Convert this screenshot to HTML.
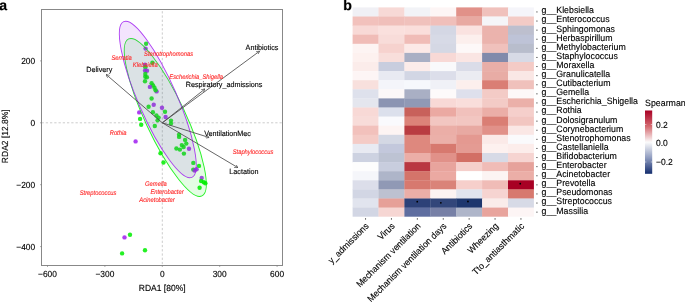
<!DOCTYPE html><html><head><meta charset="utf-8"><style>html,body{margin:0;padding:0;background:#fff;}svg{display:block;will-change:transform;text-rendering:geometricPrecision;}</style></head><body>
<svg width="685" height="302" viewBox="0 0 685 302" font-family='"Liberation Sans", sans-serif'>
<rect width="685" height="302" fill="#fff"/>
<path transform="translate(-0.85 10.1) scale(0.006982 -0.006982)" d="M393 -20Q236 -20 148.0 65.5Q60 151 60 306Q60 474 169.5 562.0Q279 650 487 652L720 656V711Q720 817 683.0 868.5Q646 920 562 920Q484 920 447.5 884.5Q411 849 402 767L109 781Q136 939 253.5 1020.5Q371 1102 574 1102Q779 1102 890.0 1001.0Q1001 900 1001 714V320Q1001 229 1021.5 194.5Q1042 160 1090 160Q1122 160 1152 166V14Q1127 8 1107.0 3.0Q1087 -2 1067.0 -5.0Q1047 -8 1024.5 -10.0Q1002 -12 972 -12Q866 -12 815.5 40.0Q765 92 755 193H749Q631 -20 393 -20ZM720 501 576 499Q478 495 437.0 477.5Q396 460 374.5 424.0Q353 388 353 328Q353 251 388.5 213.5Q424 176 483 176Q549 176 603.5 212.0Q658 248 689.0 311.5Q720 375 720 446Z" fill="#000" stroke="#000" stroke-width="28.6"/>
<path transform="translate(343.2 10.1) scale(0.006982 -0.006982)" d="M1167 545Q1167 277 1059.5 128.5Q952 -20 752 -20Q637 -20 553.0 30.0Q469 80 424 174H422Q422 139 417.5 78.0Q413 17 408 0H135Q143 93 143 247V1484H424V1070L420 894H424Q519 1102 770 1102Q962 1102 1064.5 956.5Q1167 811 1167 545ZM874 545Q874 729 820.0 818.0Q766 907 653 907Q539 907 479.5 811.5Q420 716 420 536Q420 364 478.5 268.0Q537 172 651 172Q874 172 874 545Z" fill="#000" stroke="#000" stroke-width="28.6"/>
<defs><clipPath id="pc"><rect x="41.5" y="9.5" width="241.0" height="256.0"/></clipPath>
<clipPath id="pe"><ellipse cx="157.8" cy="99.5" rx="84.96" ry="19.27" transform="rotate(66.33 157.8 99.5)"/></clipPath>
<marker id="ah" viewBox="0 0 10 10" refX="10" refY="5" markerWidth="4.2" markerHeight="4.2" orient="auto"><path d="M0,0 L10,5 L0,10" fill="none" stroke="#444" stroke-width="1.7"/></marker>
</defs>
<line x1="41.5" y1="122.8" x2="282.5" y2="122.8" stroke="#cccccc" stroke-width="1" stroke-dasharray="2.3,1.95"/>
<line x1="162.3" y1="265.5" x2="162.3" y2="9.5" stroke="#cccccc" stroke-width="1" stroke-dasharray="2.3,1.95" stroke-dashoffset="2.95"/>
<circle cx="146.1" cy="43.7" r="2.2" fill="#00ee00" fill-opacity="0.86"/>
<circle cx="145.6" cy="48.6" r="2.2" fill="#a020f0" fill-opacity="0.86"/>
<circle cx="152.4" cy="62.7" r="2.2" fill="#00ee00" fill-opacity="0.86"/>
<circle cx="145.0" cy="64.8" r="2.2" fill="#a020f0" fill-opacity="0.86"/>
<circle cx="145.3" cy="67.2" r="2.2" fill="#00ee00" fill-opacity="0.86"/>
<circle cx="145.0" cy="70.6" r="2.2" fill="#a020f0" fill-opacity="0.86"/>
<circle cx="147.0" cy="70.8" r="2.2" fill="#a020f0" fill-opacity="0.86"/>
<circle cx="145.3" cy="74.0" r="2.2" fill="#00ee00" fill-opacity="0.86"/>
<circle cx="145.3" cy="76.8" r="2.2" fill="#00ee00" fill-opacity="0.86"/>
<circle cx="146.9" cy="77.2" r="2.2" fill="#00ee00" fill-opacity="0.86"/>
<circle cx="145.0" cy="81.3" r="2.2" fill="#00ee00" fill-opacity="0.86"/>
<circle cx="151.6" cy="83.3" r="2.2" fill="#00ee00" fill-opacity="0.86"/>
<circle cx="153.1" cy="85.4" r="2.2" fill="#00ee00" fill-opacity="0.86"/>
<circle cx="149.9" cy="86.9" r="2.2" fill="#a020f0" fill-opacity="0.86"/>
<circle cx="154.5" cy="87.8" r="2.2" fill="#00ee00" fill-opacity="0.86"/>
<circle cx="156.6" cy="91.4" r="2.2" fill="#a020f0" fill-opacity="0.86"/>
<circle cx="155.6" cy="90.2" r="2.2" fill="#00ee00" fill-opacity="0.86"/>
<circle cx="151.6" cy="98.5" r="2.2" fill="#00ee00" fill-opacity="0.86"/>
<circle cx="153.7" cy="104.8" r="2.2" fill="#a020f0" fill-opacity="0.86"/>
<circle cx="148.6" cy="106.7" r="2.2" fill="#00ee00" fill-opacity="0.86"/>
<circle cx="162" cy="107.7" r="2.2" fill="#a020f0" fill-opacity="0.86"/>
<circle cx="165" cy="111.7" r="2.2" fill="#00ee00" fill-opacity="0.86"/>
<circle cx="152.9" cy="112.2" r="2.2" fill="#00ee00" fill-opacity="0.86"/>
<circle cx="156.4" cy="115.5" r="2.2" fill="#00ee00" fill-opacity="0.86"/>
<circle cx="158.6" cy="117.6" r="2.2" fill="#00ee00" fill-opacity="0.86"/>
<circle cx="165.6" cy="117" r="2.2" fill="#a020f0" fill-opacity="0.86"/>
<circle cx="157.6" cy="120.3" r="2.2" fill="#00ee00" fill-opacity="0.86"/>
<circle cx="171" cy="120.6" r="2.2" fill="#00ee00" fill-opacity="0.86"/>
<circle cx="171" cy="123.6" r="2.2" fill="#00ee00" fill-opacity="0.86"/>
<circle cx="154.8" cy="126.0" r="2.2" fill="#00ee00" fill-opacity="0.86"/>
<circle cx="139.2" cy="112.4" r="2.2" fill="#a020f0" fill-opacity="0.86"/>
<circle cx="140.1" cy="118.9" r="2.2" fill="#00ee00" fill-opacity="0.86"/>
<circle cx="141.2" cy="124.8" r="2.2" fill="#00ee00" fill-opacity="0.86"/>
<circle cx="135.6" cy="141.4" r="2.2" fill="#a020f0" fill-opacity="0.86"/>
<circle cx="179.1" cy="134.6" r="2.2" fill="#00ee00" fill-opacity="0.86"/>
<circle cx="179.1" cy="136.9" r="2.2" fill="#00ee00" fill-opacity="0.86"/>
<circle cx="185.1" cy="139.9" r="2.2" fill="#00ee00" fill-opacity="0.86"/>
<circle cx="186.3" cy="143.6" r="2.2" fill="#00ee00" fill-opacity="0.86"/>
<circle cx="181.8" cy="145.1" r="2.2" fill="#00ee00" fill-opacity="0.86"/>
<circle cx="183.6" cy="147.0" r="2.2" fill="#00ee00" fill-opacity="0.86"/>
<circle cx="176.4" cy="148.5" r="2.2" fill="#00ee00" fill-opacity="0.86"/>
<circle cx="179.9" cy="149.6" r="2.2" fill="#00ee00" fill-opacity="0.86"/>
<circle cx="189.0" cy="148.8" r="2.2" fill="#a020f0" fill-opacity="0.86"/>
<circle cx="183.9" cy="153.6" r="2.2" fill="#00ee00" fill-opacity="0.86"/>
<circle cx="160.5" cy="153.3" r="2.2" fill="#00ee00" fill-opacity="0.86"/>
<circle cx="163.5" cy="162.5" r="2.2" fill="#00ee00" fill-opacity="0.86"/>
<circle cx="193.3" cy="162.9" r="2.2" fill="#00ee00" fill-opacity="0.86"/>
<circle cx="199" cy="165.9" r="2.2" fill="#00ee00" fill-opacity="0.86"/>
<circle cx="193.3" cy="169.6" r="2.2" fill="#00ee00" fill-opacity="0.86"/>
<circle cx="194.6" cy="170.5" r="2.2" fill="#a020f0" fill-opacity="0.86"/>
<circle cx="196.6" cy="169.3" r="2.2" fill="#a020f0" fill-opacity="0.86"/>
<circle cx="201.7" cy="178.0" r="2.2" fill="#a020f0" fill-opacity="0.86"/>
<circle cx="201.1" cy="181.0" r="2.2" fill="#00ee00" fill-opacity="0.86"/>
<circle cx="203.8" cy="182.2" r="2.2" fill="#00ee00" fill-opacity="0.86"/>
<circle cx="205.4" cy="183.3" r="2.2" fill="#00ee00" fill-opacity="0.86"/>
<circle cx="199.6" cy="187.7" r="2.2" fill="#00ee00" fill-opacity="0.86"/>
<circle cx="124.5" cy="237.4" r="2.2" fill="#a020f0" fill-opacity="0.86"/>
<circle cx="130.0" cy="234.8" r="2.2" fill="#00ee00" fill-opacity="0.86"/>
<circle cx="122.1" cy="253.4" r="2.2" fill="#00ee00" fill-opacity="0.86"/>
<circle cx="145.0" cy="250.3" r="2.2" fill="#00ee00" fill-opacity="0.86"/>
<ellipse cx="165.3" cy="117.45" rx="86.64" ry="20.1" transform="rotate(64.95 165.3 117.45)" fill="rgb(0,238,0)" stroke="none" stroke-width="0.9" fill-opacity="0.107"/>
<ellipse cx="165.3" cy="117.45" rx="86.64" ry="20.1" transform="rotate(64.95 165.3 117.45)" fill="none" stroke="rgb(0,238,0)" stroke-width="0.9" stroke-opacity="0.85"/>
<ellipse cx="157.8" cy="99.5" rx="84.96" ry="19.27" transform="rotate(66.33 157.8 99.5)" fill="rgb(160,32,240)" stroke="none" stroke-width="0.9" fill-opacity="0.12"/>
<ellipse cx="157.8" cy="99.5" rx="84.96" ry="19.27" transform="rotate(66.33 157.8 99.5)" fill="none" stroke="rgb(160,32,240)" stroke-width="0.9" stroke-opacity="0.85"/>
<line x1="162.3" y1="122.8" x2="259.7" y2="51.1" stroke="#4a4a4a" stroke-width="0.85" marker-end="url(#ah)"/>
<text transform="translate(245.60 50.10) scale(1.0 1.04)" font-size="7.2" fill="#000" stroke="#000" stroke-width="0.12">Antibiotics</text>
<line x1="162.3" y1="122.8" x2="106.0" y2="74.4" stroke="#4a4a4a" stroke-width="0.85" marker-end="url(#ah)"/>
<text transform="translate(86.30 71.60) scale(1.0 1.04)" font-size="7.2" fill="#000" stroke="#000" stroke-width="0.12">Delivery</text>
<line x1="162.3" y1="122.8" x2="205.0" y2="88.9" stroke="#4a4a4a" stroke-width="0.85" marker-end="url(#ah)"/>
<text transform="translate(185.70 86.70) scale(1.0 1.04)" font-size="7.2" fill="#000" stroke="#000" stroke-width="0.12">Respiratory_admissions</text>
<line x1="162.3" y1="122.8" x2="209.2" y2="137.5" stroke="#4a4a4a" stroke-width="0.85" marker-end="url(#ah)"/>
<text transform="translate(204.20 135.50) scale(1.0 1.04)" font-size="7.2" fill="#000" stroke="#000" stroke-width="0.12">VentilationMec</text>
<line x1="162.3" y1="122.8" x2="238.0" y2="167.7" stroke="#4a4a4a" stroke-width="0.85" marker-end="url(#ah)"/>
<text transform="translate(229.30 174.20) scale(1.0 1.04)" font-size="7.2" fill="#000" stroke="#000" stroke-width="0.12">Lactation</text>
<text transform="translate(144.10 55.70) scale(0.9 1.04)" font-size="6.45" font-style="italic" fill="#ff2a2a" stroke="#ff2a2a" stroke-width="0.12">Stenotrophomonas</text>
<text transform="translate(111.50 60.40) scale(0.9 1.04)" font-size="6.45" font-style="italic" fill="#ff2a2a" stroke="#ff2a2a" stroke-width="0.12">Serratia</text>
<text transform="translate(132.80 67.10) scale(0.9 1.04)" font-size="6.45" font-style="italic" fill="#ff2a2a" stroke="#ff2a2a" stroke-width="0.12">Klebsiella</text>
<text transform="translate(169.30 79.10) scale(0.9 1.04)" font-size="6.45" font-style="italic" fill="#ff2a2a" stroke="#ff2a2a" stroke-width="0.12">Escherichia_Shigella</text>
<text transform="translate(109.70 135.20) scale(0.9 1.04)" font-size="6.45" font-style="italic" fill="#ff2a2a" stroke="#ff2a2a" stroke-width="0.12">Rothia</text>
<text transform="translate(232.70 154.10) scale(0.9 1.04)" font-size="6.45" font-style="italic" fill="#ff2a2a" stroke="#ff2a2a" stroke-width="0.12">Staphylococcus</text>
<text transform="translate(79.70 194.90) scale(0.9 1.04)" font-size="6.45" font-style="italic" fill="#ff2a2a" stroke="#ff2a2a" stroke-width="0.12">Streptococcus</text>
<text transform="translate(145.10 186.10) scale(0.9 1.04)" font-size="6.45" font-style="italic" fill="#ff2a2a" stroke="#ff2a2a" stroke-width="0.12">Gemella</text>
<text transform="translate(150.40 194.20) scale(0.9 1.04)" font-size="6.45" font-style="italic" fill="#ff2a2a" stroke="#ff2a2a" stroke-width="0.12">Enterobacter</text>
<text transform="translate(139.30 201.80) scale(0.9 1.04)" font-size="6.45" font-style="italic" fill="#ff2a2a" stroke="#ff2a2a" stroke-width="0.12">Acinetobacter</text>
<rect x="41.5" y="9.5" width="241.0" height="256.0" fill="none" stroke="#888" stroke-width="1"/>
<line x1="47.50" y1="265.5" x2="47.50" y2="267.0" stroke="#777" stroke-width="0.6"/>
<text transform="translate(47.50 276.90) scale(1.0 1.04)" font-size="8.4" text-anchor="middle" fill="#000" stroke="#000" stroke-width="0.12">−600</text>
<line x1="104.90" y1="265.5" x2="104.90" y2="267.0" stroke="#777" stroke-width="0.6"/>
<text transform="translate(104.90 276.90) scale(1.0 1.04)" font-size="8.4" text-anchor="middle" fill="#000" stroke="#000" stroke-width="0.12">−300</text>
<line x1="162.30" y1="265.5" x2="162.30" y2="267.0" stroke="#777" stroke-width="0.6"/>
<text transform="translate(162.30 276.90) scale(1.0 1.04)" font-size="8.4" text-anchor="middle" fill="#000" stroke="#000" stroke-width="0.12">0</text>
<line x1="219.70" y1="265.5" x2="219.70" y2="267.0" stroke="#777" stroke-width="0.6"/>
<text transform="translate(219.70 276.90) scale(1.0 1.04)" font-size="8.4" text-anchor="middle" fill="#000" stroke="#000" stroke-width="0.12">300</text>
<line x1="277.10" y1="265.5" x2="277.10" y2="267.0" stroke="#777" stroke-width="0.6"/>
<text transform="translate(277.10 276.90) scale(1.0 1.04)" font-size="8.4" text-anchor="middle" fill="#000" stroke="#000" stroke-width="0.12">600</text>
<line x1="40.0" y1="60.90" x2="41.5" y2="60.90" stroke="#777" stroke-width="0.6"/>
<text transform="translate(35.20 63.85) scale(1.0 1.04)" font-size="8.4" text-anchor="end" fill="#000" stroke="#000" stroke-width="0.12">200</text>
<line x1="40.0" y1="122.80" x2="41.5" y2="122.80" stroke="#777" stroke-width="0.6"/>
<text transform="translate(35.20 125.75) scale(1.0 1.04)" font-size="8.4" text-anchor="end" fill="#000" stroke="#000" stroke-width="0.12">0</text>
<line x1="40.0" y1="184.70" x2="41.5" y2="184.70" stroke="#777" stroke-width="0.6"/>
<text transform="translate(35.20 187.65) scale(1.0 1.04)" font-size="8.4" text-anchor="end" fill="#000" stroke="#000" stroke-width="0.12">−200</text>
<line x1="40.0" y1="246.60" x2="41.5" y2="246.60" stroke="#777" stroke-width="0.6"/>
<text transform="translate(35.20 249.55) scale(1.0 1.04)" font-size="8.4" text-anchor="end" fill="#000" stroke="#000" stroke-width="0.12">−400</text>
<text transform="translate(162.20 290.60) scale(1.0 1.04)" font-size="8.5" text-anchor="middle" fill="#000" stroke="#000" stroke-width="0.12">RDA1 [80%]</text>
<text transform="translate(7.90 136.20) rotate(-90) scale(1.0 1.04)" font-size="8.5" text-anchor="middle" fill="#000" stroke="#000" stroke-width="0.12">RDA2 [12.8%]</text>
<rect x="352.60" y="7.40" width="26.20" height="9.40" fill="#f0f0f5"/>
<rect x="378.50" y="7.40" width="26.20" height="9.40" fill="#f7d9d6"/>
<rect x="404.40" y="7.40" width="26.20" height="9.40" fill="#f2f3f7"/>
<rect x="430.30" y="7.40" width="26.20" height="9.40" fill="#fdf5f5"/>
<rect x="456.20" y="7.40" width="26.20" height="9.40" fill="#e19189"/>
<rect x="482.10" y="7.40" width="26.20" height="9.40" fill="#f0c1bc"/>
<rect x="508.00" y="7.40" width="25.90" height="9.40" fill="#f5f5fa"/>
<rect x="352.60" y="16.50" width="26.20" height="9.40" fill="#f2c1bc"/>
<rect x="378.50" y="16.50" width="26.20" height="9.40" fill="#f0bfba"/>
<rect x="404.40" y="16.50" width="26.20" height="9.40" fill="#f0c1bc"/>
<rect x="430.30" y="16.50" width="26.20" height="9.40" fill="#f0bfba"/>
<rect x="456.20" y="16.50" width="26.20" height="9.40" fill="#e8a9a2"/>
<rect x="482.10" y="16.50" width="26.20" height="9.40" fill="#f5f5f8"/>
<rect x="508.00" y="16.50" width="25.90" height="9.40" fill="#f3cbc6"/>
<rect x="352.60" y="25.60" width="26.20" height="9.40" fill="#f8d9d6"/>
<rect x="378.50" y="25.60" width="26.20" height="9.40" fill="#fae0dd"/>
<rect x="404.40" y="25.60" width="26.20" height="9.40" fill="#fadedb"/>
<rect x="430.30" y="25.60" width="26.20" height="9.40" fill="#d4d7e4"/>
<rect x="456.20" y="25.60" width="26.20" height="9.40" fill="#fae2e0"/>
<rect x="482.10" y="25.60" width="26.20" height="9.40" fill="#ebb3ad"/>
<rect x="508.00" y="25.60" width="25.90" height="9.40" fill="#bdbfce"/>
<rect x="352.60" y="34.70" width="26.20" height="9.40" fill="#f0bcb7"/>
<rect x="378.50" y="34.70" width="26.20" height="9.40" fill="#f8dcd9"/>
<rect x="404.40" y="34.70" width="26.20" height="9.40" fill="#f0bcb7"/>
<rect x="430.30" y="34.70" width="26.20" height="9.40" fill="#d7dae6"/>
<rect x="456.20" y="34.70" width="26.20" height="9.40" fill="#fcefed"/>
<rect x="482.10" y="34.70" width="26.20" height="9.40" fill="#ebb3ad"/>
<rect x="508.00" y="34.70" width="25.90" height="9.40" fill="#bec3d7"/>
<rect x="352.60" y="43.80" width="26.20" height="9.40" fill="#fdf4f3"/>
<rect x="378.50" y="43.80" width="26.20" height="9.40" fill="#f6d2ce"/>
<rect x="404.40" y="43.80" width="26.20" height="9.40" fill="#fce9e7"/>
<rect x="430.30" y="43.80" width="26.20" height="9.40" fill="#d5d8e4"/>
<rect x="456.20" y="43.80" width="26.20" height="9.40" fill="#fdf8f8"/>
<rect x="482.10" y="43.80" width="26.20" height="9.40" fill="#f0c1bc"/>
<rect x="508.00" y="43.80" width="25.90" height="9.40" fill="#b8bdcc"/>
<rect x="352.60" y="52.90" width="26.20" height="9.40" fill="#fdf1ef"/>
<rect x="378.50" y="52.90" width="26.20" height="9.40" fill="#f8dedb"/>
<rect x="404.40" y="52.90" width="26.20" height="9.40" fill="#a9afc4"/>
<rect x="430.30" y="52.90" width="26.20" height="9.40" fill="#f8d9d6"/>
<rect x="456.20" y="52.90" width="26.20" height="9.40" fill="#fae5e3"/>
<rect x="482.10" y="52.90" width="26.20" height="9.40" fill="#818aab"/>
<rect x="508.00" y="52.90" width="25.90" height="9.40" fill="#d7dae6"/>
<rect x="352.60" y="62.00" width="26.20" height="9.40" fill="#fbecea"/>
<rect x="378.50" y="62.00" width="26.20" height="9.40" fill="#c8cdde"/>
<rect x="404.40" y="62.00" width="26.20" height="9.40" fill="#fcecea"/>
<rect x="430.30" y="62.00" width="26.20" height="9.40" fill="#f9f9fb"/>
<rect x="456.20" y="62.00" width="26.20" height="9.40" fill="#dadce8"/>
<rect x="482.10" y="62.00" width="26.20" height="9.40" fill="#e8aea8"/>
<rect x="508.00" y="62.00" width="25.90" height="9.40" fill="#f4cbc6"/>
<rect x="352.60" y="71.10" width="26.20" height="9.40" fill="#fdf5f5"/>
<rect x="378.50" y="71.10" width="26.20" height="9.40" fill="#e8eaf2"/>
<rect x="404.40" y="71.10" width="26.20" height="9.40" fill="#d2d6e4"/>
<rect x="430.30" y="71.10" width="26.20" height="9.40" fill="#dcdeea"/>
<rect x="456.20" y="71.10" width="26.20" height="9.40" fill="#ebecf2"/>
<rect x="482.10" y="71.10" width="26.20" height="9.40" fill="#e8aca5"/>
<rect x="508.00" y="71.10" width="25.90" height="9.40" fill="#fae7e5"/>
<rect x="352.60" y="80.20" width="26.20" height="9.40" fill="#f8e0dd"/>
<rect x="378.50" y="80.20" width="26.20" height="9.40" fill="#f4f5fa"/>
<rect x="404.40" y="80.20" width="26.20" height="9.40" fill="#f6f8fc"/>
<rect x="430.30" y="80.20" width="26.20" height="9.40" fill="#f0f1f7"/>
<rect x="456.20" y="80.20" width="26.20" height="9.40" fill="#fcefed"/>
<rect x="482.10" y="80.20" width="26.20" height="9.40" fill="#da7e74"/>
<rect x="508.00" y="80.20" width="25.90" height="9.40" fill="#f0c1bc"/>
<rect x="352.60" y="89.30" width="26.20" height="9.40" fill="#dee1ec"/>
<rect x="378.50" y="89.30" width="26.20" height="9.40" fill="#fcf8f8"/>
<rect x="404.40" y="89.30" width="26.20" height="9.40" fill="#a9afc4"/>
<rect x="430.30" y="89.30" width="26.20" height="9.40" fill="#fdfafa"/>
<rect x="456.20" y="89.30" width="26.20" height="9.40" fill="#dee0ec"/>
<rect x="482.10" y="89.30" width="26.20" height="9.40" fill="#f3cbc6"/>
<rect x="508.00" y="89.30" width="25.90" height="9.40" fill="#fdf8f8"/>
<rect x="352.60" y="98.40" width="26.20" height="9.40" fill="#e4e6ee"/>
<rect x="378.50" y="98.40" width="26.20" height="9.40" fill="#8b94b2"/>
<rect x="404.40" y="98.40" width="26.20" height="9.40" fill="#9099b5"/>
<rect x="430.30" y="98.40" width="26.20" height="9.40" fill="#f8d9d6"/>
<rect x="456.20" y="98.40" width="26.20" height="9.40" fill="#f9dedb"/>
<rect x="482.10" y="98.40" width="26.20" height="9.40" fill="#f3cbc6"/>
<rect x="508.00" y="98.40" width="25.90" height="9.40" fill="#ebb0a9"/>
<rect x="352.60" y="107.50" width="26.20" height="9.40" fill="#f8d9d6"/>
<rect x="378.50" y="107.50" width="26.20" height="9.40" fill="#dce0ec"/>
<rect x="404.40" y="107.50" width="26.20" height="9.40" fill="#c8615b"/>
<rect x="430.30" y="107.50" width="26.20" height="9.40" fill="#eba9a2"/>
<rect x="456.20" y="107.50" width="26.20" height="9.40" fill="#f1c1bc"/>
<rect x="482.10" y="107.50" width="26.20" height="9.40" fill="#ebaea7"/>
<rect x="508.00" y="107.50" width="25.90" height="9.40" fill="#f5cfcb"/>
<rect x="352.60" y="116.60" width="26.20" height="9.40" fill="#f8dcd9"/>
<rect x="378.50" y="116.60" width="26.20" height="9.40" fill="#fafafd"/>
<rect x="404.40" y="116.60" width="26.20" height="9.40" fill="#dc8379"/>
<rect x="430.30" y="116.60" width="26.20" height="9.40" fill="#f2c6c1"/>
<rect x="456.20" y="116.60" width="26.20" height="9.40" fill="#f2c6c1"/>
<rect x="482.10" y="116.60" width="26.20" height="9.40" fill="#da7e74"/>
<rect x="508.00" y="116.60" width="25.90" height="9.40" fill="#f2c6c1"/>
<rect x="352.60" y="125.70" width="26.20" height="9.40" fill="#f2c1bc"/>
<rect x="378.50" y="125.70" width="26.20" height="9.40" fill="#fdf4f3"/>
<rect x="404.40" y="125.70" width="26.20" height="9.40" fill="#b93c41"/>
<rect x="430.30" y="125.70" width="26.20" height="9.40" fill="#ebaea7"/>
<rect x="456.20" y="125.70" width="26.20" height="9.40" fill="#e8a9a2"/>
<rect x="482.10" y="125.70" width="26.20" height="9.40" fill="#e19189"/>
<rect x="508.00" y="125.70" width="25.90" height="9.40" fill="#fae7e5"/>
<rect x="352.60" y="134.80" width="26.20" height="9.40" fill="#f4cbc6"/>
<rect x="378.50" y="134.80" width="26.20" height="9.40" fill="#d4d8e4"/>
<rect x="404.40" y="134.80" width="26.20" height="9.40" fill="#de887e"/>
<rect x="430.30" y="134.80" width="26.20" height="9.40" fill="#ebb0a9"/>
<rect x="456.20" y="134.80" width="26.20" height="9.40" fill="#e49991"/>
<rect x="482.10" y="134.80" width="26.20" height="9.40" fill="#fbeae8"/>
<rect x="508.00" y="134.80" width="25.90" height="9.40" fill="#fafafc"/>
<rect x="352.60" y="143.90" width="26.20" height="9.40" fill="#e8eaf2"/>
<rect x="378.50" y="143.90" width="26.20" height="9.40" fill="#c3c8dc"/>
<rect x="404.40" y="143.90" width="26.20" height="9.40" fill="#de887e"/>
<rect x="430.30" y="143.90" width="26.20" height="9.40" fill="#d7796f"/>
<rect x="456.20" y="143.90" width="26.20" height="9.40" fill="#e49b93"/>
<rect x="482.10" y="143.90" width="26.20" height="9.40" fill="#fdf1ef"/>
<rect x="508.00" y="143.90" width="25.90" height="9.40" fill="#fcedeb"/>
<rect x="352.60" y="153.00" width="26.20" height="9.40" fill="#cdd2e1"/>
<rect x="378.50" y="153.00" width="26.20" height="9.40" fill="#bdc3d3"/>
<rect x="404.40" y="153.00" width="26.20" height="9.40" fill="#ebaea7"/>
<rect x="430.30" y="153.00" width="26.20" height="9.40" fill="#e19189"/>
<rect x="456.20" y="153.00" width="26.20" height="9.40" fill="#d26f65"/>
<rect x="482.10" y="153.00" width="26.20" height="9.40" fill="#d7dae6"/>
<rect x="508.00" y="153.00" width="25.90" height="9.40" fill="#f6d4d1"/>
<rect x="352.60" y="162.10" width="26.20" height="9.40" fill="#fdfdfd"/>
<rect x="378.50" y="162.10" width="26.20" height="9.40" fill="#c8cdde"/>
<rect x="404.40" y="162.10" width="26.20" height="9.40" fill="#b93741"/>
<rect x="430.30" y="162.10" width="26.20" height="9.40" fill="#e8a49d"/>
<rect x="456.20" y="162.10" width="26.20" height="9.40" fill="#f5cfcb"/>
<rect x="482.10" y="162.10" width="26.20" height="9.40" fill="#f0bcb7"/>
<rect x="508.00" y="162.10" width="25.90" height="9.40" fill="#e6a29b"/>
<rect x="352.60" y="171.20" width="26.20" height="9.40" fill="#f5f6fa"/>
<rect x="378.50" y="171.20" width="26.20" height="9.40" fill="#aeb5c9"/>
<rect x="404.40" y="171.20" width="26.20" height="9.40" fill="#d4746a"/>
<rect x="430.30" y="171.20" width="26.20" height="9.40" fill="#eba9a2"/>
<rect x="456.20" y="171.20" width="26.20" height="9.40" fill="#ffffff"/>
<rect x="482.10" y="171.20" width="26.20" height="9.40" fill="#fcf4f3"/>
<rect x="508.00" y="171.20" width="25.90" height="9.40" fill="#ebaea7"/>
<rect x="352.60" y="180.30" width="26.20" height="9.40" fill="#dcdeea"/>
<rect x="378.50" y="180.30" width="26.20" height="9.40" fill="#9099b5"/>
<rect x="404.40" y="180.30" width="26.20" height="9.40" fill="#d7796f"/>
<rect x="430.30" y="180.30" width="26.20" height="9.40" fill="#da8379"/>
<rect x="456.20" y="180.30" width="26.20" height="9.40" fill="#f6cfcb"/>
<rect x="482.10" y="180.30" width="26.20" height="9.40" fill="#f0bcb7"/>
<rect x="508.00" y="180.30" width="25.90" height="9.40" fill="#a80024"/>
<rect x="352.60" y="189.40" width="26.20" height="9.40" fill="#d2d6e4"/>
<rect x="378.50" y="189.40" width="26.20" height="9.40" fill="#bdc1d0"/>
<rect x="404.40" y="189.40" width="26.20" height="9.40" fill="#ebaea7"/>
<rect x="430.30" y="189.40" width="26.20" height="9.40" fill="#fcf3f2"/>
<rect x="456.20" y="189.40" width="26.20" height="9.40" fill="#e1e4ee"/>
<rect x="482.10" y="189.40" width="26.20" height="9.40" fill="#f6d4d1"/>
<rect x="508.00" y="189.40" width="25.90" height="9.40" fill="#d7796f"/>
<rect x="352.60" y="198.50" width="26.20" height="9.40" fill="#e1e4ee"/>
<rect x="378.50" y="198.50" width="26.20" height="9.40" fill="#e6a098"/>
<rect x="404.40" y="198.50" width="26.20" height="9.40" fill="#2d4178"/>
<rect x="430.30" y="198.50" width="26.20" height="9.40" fill="#32467a"/>
<rect x="456.20" y="198.50" width="26.20" height="9.40" fill="#1e376e"/>
<rect x="482.10" y="198.50" width="26.20" height="9.40" fill="#faecea"/>
<rect x="508.00" y="198.50" width="25.90" height="9.40" fill="#d7dae6"/>
<rect x="352.60" y="207.60" width="26.20" height="9.10" fill="#d2d6e4"/>
<rect x="378.50" y="207.60" width="26.20" height="9.10" fill="#f6d6d3"/>
<rect x="404.40" y="207.60" width="26.20" height="9.10" fill="#5f6ea0"/>
<rect x="430.30" y="207.60" width="26.20" height="9.10" fill="#7780a6"/>
<rect x="456.20" y="207.60" width="26.20" height="9.10" fill="#aeb5c9"/>
<rect x="482.10" y="207.60" width="26.20" height="9.10" fill="#e8a49d"/>
<rect x="508.00" y="207.60" width="25.90" height="9.10" fill="#fdf5f5"/>
<circle cx="417.25" cy="201.70" r="0.9" fill="#000"/>
<circle cx="440.85" cy="202.80" r="0.9" fill="#000"/>
<circle cx="467.95" cy="201.50" r="0.9" fill="#000"/>
<circle cx="520.25" cy="183.70" r="0.9" fill="#000"/>
<line x1="365.55" y1="218.00" x2="365.55" y2="219.80" stroke="#333" stroke-width="0.7"/>
<text transform="translate(369.35 226.60) rotate(-45) scale(1.0 1.04)" font-size="8.75" text-anchor="end" fill="#000" stroke="#000" stroke-width="0.12">y_admissions</text>
<line x1="391.45" y1="218.00" x2="391.45" y2="219.80" stroke="#333" stroke-width="0.7"/>
<text transform="translate(395.25 226.60) rotate(-45) scale(1.0 1.04)" font-size="8.75" text-anchor="end" fill="#000" stroke="#000" stroke-width="0.12">Virus</text>
<line x1="417.35" y1="218.00" x2="417.35" y2="219.80" stroke="#333" stroke-width="0.7"/>
<text transform="translate(421.15 226.60) rotate(-45) scale(1.0 1.04)" font-size="8.75" text-anchor="end" fill="#000" stroke="#000" stroke-width="0.12">Mechanism ventilation</text>
<line x1="443.25" y1="218.00" x2="443.25" y2="219.80" stroke="#333" stroke-width="0.7"/>
<text transform="translate(447.05 226.60) rotate(-45) scale(1.0 1.04)" font-size="8.75" text-anchor="end" fill="#000" stroke="#000" stroke-width="0.12">Mechanism ventilation days</text>
<line x1="469.15" y1="218.00" x2="469.15" y2="219.80" stroke="#333" stroke-width="0.7"/>
<text transform="translate(472.95 226.60) rotate(-45) scale(1.0 1.04)" font-size="8.75" text-anchor="end" fill="#000" stroke="#000" stroke-width="0.12">Antibiotics</text>
<line x1="495.05" y1="218.00" x2="495.05" y2="219.80" stroke="#333" stroke-width="0.7"/>
<text transform="translate(498.85 226.60) rotate(-45) scale(1.0 1.04)" font-size="8.75" text-anchor="end" fill="#000" stroke="#000" stroke-width="0.12">Wheezing</text>
<line x1="520.95" y1="218.00" x2="520.95" y2="219.80" stroke="#333" stroke-width="0.7"/>
<text transform="translate(524.75 226.60) rotate(-45) scale(1.0 1.04)" font-size="8.75" text-anchor="end" fill="#000" stroke="#000" stroke-width="0.12">Tto_antiasthmatic</text>
<line x1="536.10" y1="11.95" x2="537.70" y2="11.95" stroke="#333" stroke-width="0.7"/>
<text transform="translate(541.60 13.35) scale(1.0 1.04)" font-size="8.8" fill="#000" stroke="#000" stroke-width="0.12">g__Klebsiella</text>
<line x1="536.10" y1="21.05" x2="537.70" y2="21.05" stroke="#333" stroke-width="0.7"/>
<text transform="translate(541.60 22.45) scale(1.0 1.04)" font-size="8.8" fill="#000" stroke="#000" stroke-width="0.12">g__Enterococcus</text>
<line x1="536.10" y1="30.15" x2="537.70" y2="30.15" stroke="#333" stroke-width="0.7"/>
<text transform="translate(541.60 31.55) scale(1.0 1.04)" font-size="8.8" fill="#000" stroke="#000" stroke-width="0.12">g__Sphingomonas</text>
<line x1="536.10" y1="39.25" x2="537.70" y2="39.25" stroke="#333" stroke-width="0.7"/>
<text transform="translate(541.60 40.65) scale(1.0 1.04)" font-size="8.8" fill="#000" stroke="#000" stroke-width="0.12">g__Herbaspirillum</text>
<line x1="536.10" y1="48.35" x2="537.70" y2="48.35" stroke="#333" stroke-width="0.7"/>
<text transform="translate(541.60 49.75) scale(1.0 1.04)" font-size="8.8" fill="#000" stroke="#000" stroke-width="0.12">g__Methylobacterium</text>
<line x1="536.10" y1="57.45" x2="537.70" y2="57.45" stroke="#333" stroke-width="0.7"/>
<text transform="translate(541.60 58.85) scale(1.0 1.04)" font-size="8.8" fill="#000" stroke="#000" stroke-width="0.12">g__Staphylococcus</text>
<line x1="536.10" y1="66.55" x2="537.70" y2="66.55" stroke="#333" stroke-width="0.7"/>
<text transform="translate(541.60 67.95) scale(1.0 1.04)" font-size="8.8" fill="#000" stroke="#000" stroke-width="0.12">g__Moraxella</text>
<line x1="536.10" y1="75.65" x2="537.70" y2="75.65" stroke="#333" stroke-width="0.7"/>
<text transform="translate(541.60 77.05) scale(1.0 1.04)" font-size="8.8" fill="#000" stroke="#000" stroke-width="0.12">g__Granulicatella</text>
<line x1="536.10" y1="84.75" x2="537.70" y2="84.75" stroke="#333" stroke-width="0.7"/>
<text transform="translate(541.60 86.15) scale(1.0 1.04)" font-size="8.8" fill="#000" stroke="#000" stroke-width="0.12">g__Cutibacterium</text>
<line x1="536.10" y1="93.85" x2="537.70" y2="93.85" stroke="#333" stroke-width="0.7"/>
<text transform="translate(541.60 95.25) scale(1.0 1.04)" font-size="8.8" fill="#000" stroke="#000" stroke-width="0.12">g__Gemella</text>
<line x1="536.10" y1="102.95" x2="537.70" y2="102.95" stroke="#333" stroke-width="0.7"/>
<text transform="translate(541.60 104.35) scale(1.0 1.04)" font-size="8.8" fill="#000" stroke="#000" stroke-width="0.12">g__Escherichia_Shigella</text>
<line x1="536.10" y1="112.05" x2="537.70" y2="112.05" stroke="#333" stroke-width="0.7"/>
<text transform="translate(541.60 113.45) scale(1.0 1.04)" font-size="8.8" fill="#000" stroke="#000" stroke-width="0.12">g__Rothia</text>
<line x1="536.10" y1="121.15" x2="537.70" y2="121.15" stroke="#333" stroke-width="0.7"/>
<text transform="translate(541.60 122.55) scale(1.0 1.04)" font-size="8.8" fill="#000" stroke="#000" stroke-width="0.12">g__Dolosigranulum</text>
<line x1="536.10" y1="130.25" x2="537.70" y2="130.25" stroke="#333" stroke-width="0.7"/>
<text transform="translate(541.60 131.65) scale(1.0 1.04)" font-size="8.8" fill="#000" stroke="#000" stroke-width="0.12">g__Corynebacterium</text>
<line x1="536.10" y1="139.35" x2="537.70" y2="139.35" stroke="#333" stroke-width="0.7"/>
<text transform="translate(541.60 140.75) scale(1.0 1.04)" font-size="8.8" fill="#000" stroke="#000" stroke-width="0.12">g__Stenotrophomonas</text>
<line x1="536.10" y1="148.45" x2="537.70" y2="148.45" stroke="#333" stroke-width="0.7"/>
<text transform="translate(541.60 149.85) scale(1.0 1.04)" font-size="8.8" fill="#000" stroke="#000" stroke-width="0.12">g__Castellaniella</text>
<line x1="536.10" y1="157.55" x2="537.70" y2="157.55" stroke="#333" stroke-width="0.7"/>
<text transform="translate(541.60 158.95) scale(1.0 1.04)" font-size="8.8" fill="#000" stroke="#000" stroke-width="0.12">g__Bifidobacterium</text>
<line x1="536.10" y1="166.65" x2="537.70" y2="166.65" stroke="#333" stroke-width="0.7"/>
<text transform="translate(541.60 168.05) scale(1.0 1.04)" font-size="8.8" fill="#000" stroke="#000" stroke-width="0.12">g__Enterobacter</text>
<line x1="536.10" y1="175.75" x2="537.70" y2="175.75" stroke="#333" stroke-width="0.7"/>
<text transform="translate(541.60 177.15) scale(1.0 1.04)" font-size="8.8" fill="#000" stroke="#000" stroke-width="0.12">g__Acinetobacter</text>
<line x1="536.10" y1="184.85" x2="537.70" y2="184.85" stroke="#333" stroke-width="0.7"/>
<text transform="translate(541.60 186.25) scale(1.0 1.04)" font-size="8.8" fill="#000" stroke="#000" stroke-width="0.12">g__Prevotella</text>
<line x1="536.10" y1="193.95" x2="537.70" y2="193.95" stroke="#333" stroke-width="0.7"/>
<text transform="translate(541.60 195.35) scale(1.0 1.04)" font-size="8.8" fill="#000" stroke="#000" stroke-width="0.12">g__Pseudomonas</text>
<line x1="536.10" y1="203.05" x2="537.70" y2="203.05" stroke="#333" stroke-width="0.7"/>
<text transform="translate(541.60 204.45) scale(1.0 1.04)" font-size="8.8" fill="#000" stroke="#000" stroke-width="0.12">g__Streptococcus</text>
<line x1="536.10" y1="212.15" x2="537.70" y2="212.15" stroke="#333" stroke-width="0.7"/>
<text transform="translate(541.60 213.55) scale(1.0 1.04)" font-size="8.8" fill="#000" stroke="#000" stroke-width="0.12">g__Massilia</text>
<text transform="translate(645.10 106.40) scale(1.0 1.04)" font-size="8.8" fill="#000" stroke="#000" stroke-width="0.12">Spearman</text>
<defs><linearGradient id="lg" x1="0" y1="0" x2="0" y2="1"><stop offset="0" stop-color="#a80024"/><stop offset="0.25" stop-color="#d46a70"/><stop offset="0.5" stop-color="#fbfbfb"/><stop offset="0.75" stop-color="#8e9bbf"/><stop offset="1" stop-color="#142d6e"/></linearGradient></defs>
<rect x="645" y="110.5" width="7.2" height="63.3" fill="url(#lg)"/>
<line x1="645" y1="124.50" x2="646.4" y2="124.50" stroke="#fff" stroke-width="0.5"/>
<line x1="650.8" y1="124.50" x2="652.2" y2="124.50" stroke="#fff" stroke-width="0.5"/>
<text transform="translate(656.00 127.50) scale(1.0 1.04)" font-size="8.5" fill="#000" stroke="#000" stroke-width="0.12">0.2</text>
<line x1="645" y1="142.90" x2="646.4" y2="142.90" stroke="#fff" stroke-width="0.5"/>
<line x1="650.8" y1="142.90" x2="652.2" y2="142.90" stroke="#fff" stroke-width="0.5"/>
<text transform="translate(656.00 145.90) scale(1.0 1.04)" font-size="8.5" fill="#000" stroke="#000" stroke-width="0.12">0.0</text>
<line x1="645" y1="162.00" x2="646.4" y2="162.00" stroke="#fff" stroke-width="0.5"/>
<line x1="650.8" y1="162.00" x2="652.2" y2="162.00" stroke="#fff" stroke-width="0.5"/>
<text transform="translate(656.00 165.00) scale(1.0 1.04)" font-size="8.5" fill="#000" stroke="#000" stroke-width="0.12">−0.2</text>
</svg></body></html>
